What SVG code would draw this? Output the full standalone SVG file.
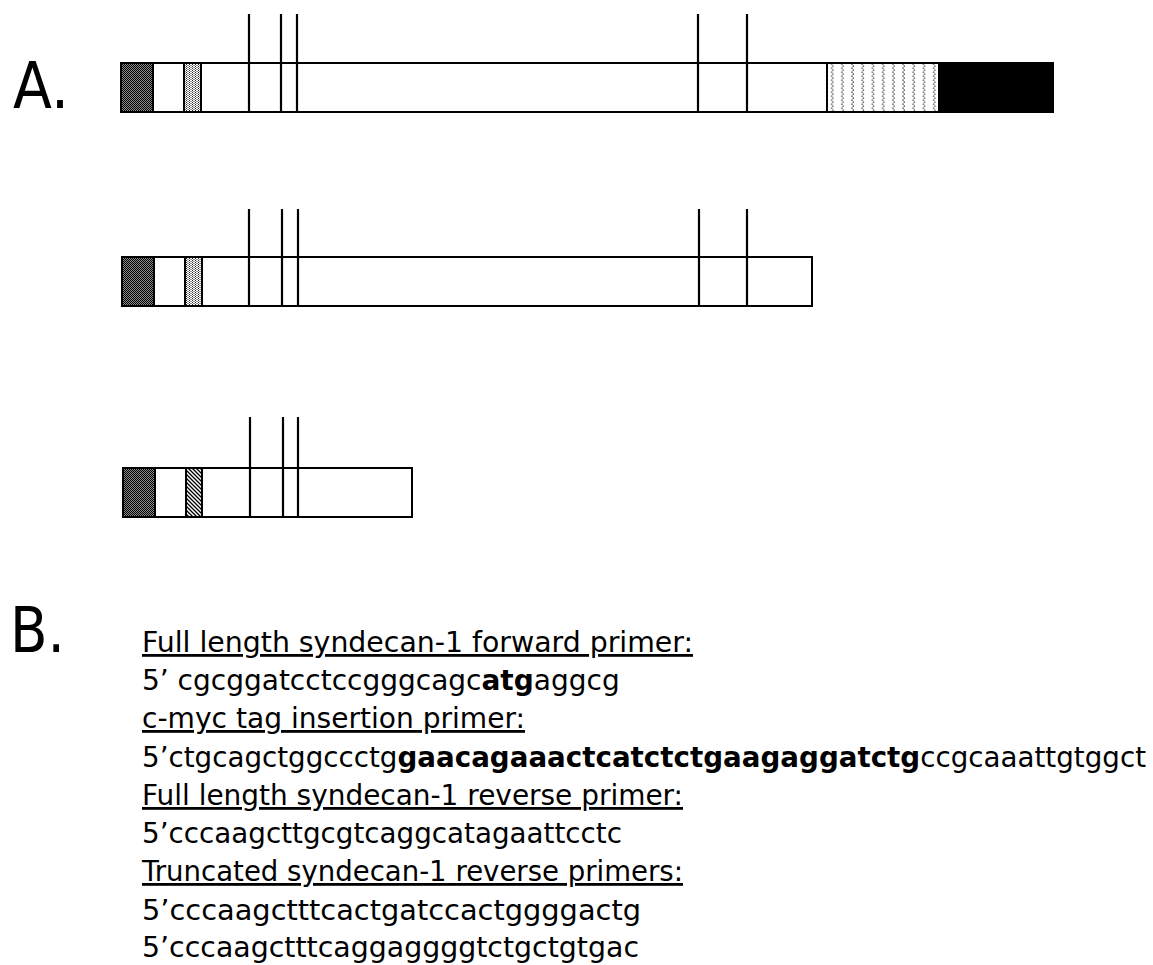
<svg xmlns="http://www.w3.org/2000/svg" width="1153" height="965" viewBox="0 0 1153 965">
  <defs>
    <!-- dense checker used for the 5' untranslated block -->
    <pattern id="pat-dark" width="2" height="2" patternUnits="userSpaceOnUse">
      <rect width="2" height="2" fill="#8a8a8a"/>
      <rect x="0" y="0" width="1" height="1" fill="#000"/>
      <rect x="1" y="1" width="1" height="1" fill="#000"/>
    </pattern>
    <!-- light stipple -->
    <pattern id="pat-light" width="3" height="2" patternUnits="userSpaceOnUse">
      <rect width="3" height="2" fill="#fff"/>
      <rect x="0" y="0" width="1" height="1" fill="#222"/>
      <rect x="1.5" y="1" width="1" height="1" fill="#222"/>
    </pattern>
    <!-- diagonal hatch -->
    <pattern id="pat-hatch" width="4" height="4" patternUnits="userSpaceOnUse">
      <rect width="4" height="4" fill="#fff"/>
      <path d="M-1,-1 L5,5 M-1,3 L1,5 M3,-1 L5,1" stroke="#000" stroke-width="1.3"/>
    </pattern>
    <!-- columns of dots -->
    <pattern id="pat-cols" width="10.2" height="4" patternUnits="userSpaceOnUse" x="827" y="63">
      <rect width="10.2" height="4" fill="#fff"/>
      <rect x="4" y="0.5" width="1.3" height="1.3" fill="#333"/>
      <rect x="5.2" y="2.5" width="1.3" height="1.3" fill="#333"/>
    </pattern>
    <style>
      .bar { fill: #fff; stroke: #000; stroke-width: 2; }
      .seg { stroke: #000; stroke-width: 2; }
      .tick { stroke: #000; stroke-width: 2.2; fill: none; }
      .panel { font-family: "DejaVu Sans", Tahoma, Verdana, sans-serif; fill: #000; }
      .body { font-family: "DejaVu Sans", Tahoma, Verdana, sans-serif; font-size: 28px; fill: #000; }
      .u { text-decoration: underline; text-decoration-skip-ink: none; }
      .b { font-weight: bold; }
    </style>
  </defs>

  <!-- panel labels -->
  <g id="label-a"><text class="panel" x="13" y="108" font-size="64" textLength="56" lengthAdjust="spacingAndGlyphs">A.</text></g>
  <g id="label-b"><text class="panel" x="10" y="652" font-size="62" textLength="55" lengthAdjust="spacingAndGlyphs">B.</text></g>

  <!-- full-length construct -->
  <g id="construct-full">
    <rect class="bar" x="121" y="63" width="932" height="49"/>
    <rect class="seg" x="121" y="63" width="32" height="49" fill="url(#pat-dark)"/>
    <rect class="seg" x="184" y="63" width="17" height="49" fill="url(#pat-light)"/>
    <rect class="seg" x="827" y="63" width="112" height="49" fill="url(#pat-cols)"/>
    <rect class="seg" x="939" y="63" width="114" height="49" fill="#000"/>
    <path class="tick" d="M249,14 V112 M281,14 V112 M297,14 V112 M698,14 V112 M747,14 V112"/>
  </g>

  <!-- construct lacking the cytoplasmic region -->
  <g id="construct-mid">
    <rect class="bar" x="122" y="257" width="690" height="49"/>
    <rect class="seg" x="122" y="257" width="32" height="49" fill="url(#pat-dark)"/>
    <rect class="seg" x="185" y="257" width="17" height="49" fill="url(#pat-light)"/>
    <path class="tick" d="M249,209 V306 M282,209 V306 M298,209 V306 M699,209 V306 M747,209 V306"/>
  </g>

  <!-- shortest truncated construct -->
  <g id="construct-short">
    <rect class="bar" x="123" y="468" width="289" height="49"/>
    <rect class="seg" x="123" y="468" width="32" height="49" fill="url(#pat-dark)"/>
    <rect class="seg" x="186" y="468" width="16" height="49" fill="url(#pat-hatch)"/>
    <path class="tick" d="M250,417 V517 M283,417 V517 M298,417 V517"/>
  </g>

  <!-- primer list -->
  <g id="primers">
    <text class="body u" x="142" y="652" textLength="551" lengthAdjust="spacingAndGlyphs">Full length syndecan-1 forward primer:</text>
    <text class="body" x="142" y="690">5’ cgcggatcctccgggcagc<tspan class="b">atg</tspan>aggcg</text>
    <text class="body u" x="142" y="728" textLength="383" lengthAdjust="spacingAndGlyphs">c-myc tag insertion primer:</text>
    <text class="body" x="142" y="767" textLength="1004" lengthAdjust="spacingAndGlyphs">5’ctgcagctggccctg<tspan class="b">gaacagaaactcatctctgaagaggatctg</tspan>ccgcaaattgtggct</text>
    <text class="body u" x="142" y="805" textLength="541" lengthAdjust="spacingAndGlyphs">Full length syndecan-1 reverse primer:</text>
    <text class="body" x="142" y="843" textLength="480" lengthAdjust="spacingAndGlyphs">5’cccaagcttgcgtcaggcatagaattcctc</text>
    <text class="body u" x="142" y="881" textLength="541" lengthAdjust="spacingAndGlyphs">Truncated syndecan-1 reverse primers:</text>
    <text class="body" x="142" y="920" textLength="499" lengthAdjust="spacingAndGlyphs">5’cccaagctttcactgatccactggggactg</text>
    <text class="body" x="142" y="957" textLength="497" lengthAdjust="spacingAndGlyphs">5’cccaagctttcaggaggggtctgctgtgac</text>
  </g>
</svg>
